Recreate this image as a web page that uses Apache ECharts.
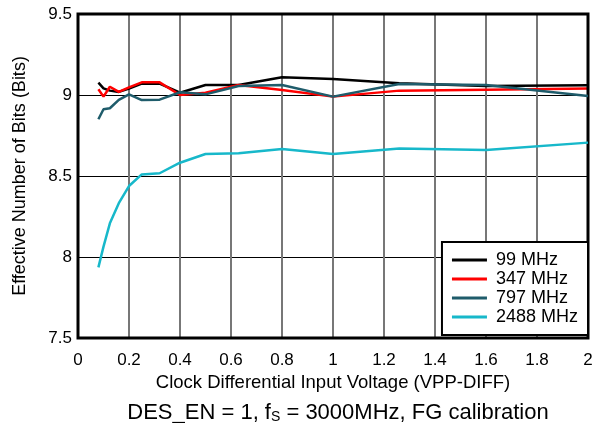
<!DOCTYPE html>
<html><head><meta charset="utf-8">
<script src="https://cdn.jsdelivr.net/npm/echarts@6/dist/echarts.min.js"></script>
<style>html,body{margin:0;padding:0;background:#fff}#c{width:596px;height:423px}</style>
</head><body><div id="c"></div>
<script>
var xValues = [0.08, 0.1, 0.125, 0.16, 0.2, 0.25, 0.32, 0.4, 0.5, 0.63, 0.8, 1.0, 1.26, 1.6, 2.0];
var enob99   = [9.076, 9.041, 9.027, 9.019, 9.040, 9.070, 9.070, 9.014, 9.062, 9.062, 9.109, 9.099, 9.072, 9.055, 9.060];
var enob347  = [9.035, 8.990, 9.051, 9.019, 9.047, 9.078, 9.078, 9.000, 9.014, 9.062, 9.031, 8.990, 9.027, 9.033, 9.040];
var enob797  = [8.850, 8.912, 8.918, 8.970, 9.004, 8.969, 8.971, 9.017, 9.004, 9.056, 9.062, 8.990, 9.068, 9.062, 8.994];
var enob2488 = [7.936, 8.064, 8.208, 8.332, 8.438, 8.510, 8.517, 8.582, 8.636, 8.640, 8.667, 8.636, 8.670, 8.660, 8.706];
var seriesNames = ['99 MHz', '347 MHz', '797 MHz', '2488 MHz'];
var xTicks = {min: 0, max: 2, interval: 0.2};
var yTicks = {min: 7.5, max: 9.5, interval: 0.5};

function pairs(ys){ return xValues.map(function(x,i){ return [x, ys[i]]; }); }
var colors = ['#000000', '#ff0000', '#1f5c6b', '#17b8ca'];
var dataSets = [enob99, enob347, enob797, enob2488];
var font = 'Liberation Sans, Arial, sans-serif';

var chart = echarts.init(document.getElementById('c'));
chart.setOption({
  animation: false,
  backgroundColor: '#fff',
  grid: {left: 78, right: 8, top: 14, bottom: 85, show: true, borderColor: '#000', borderWidth: 3, z: 5},
  title: {
    text: 'DES_EN = 1, f{sub|S} = 3000MHz, FG calibration',
    left: 333, top: 396, textAlign: 'center',
    textStyle: {fontFamily: font, fontSize: 22, fontWeight: 'normal', color: '#000',
      rich: {sub: {fontFamily: font, fontSize: 14, color: '#000', verticalAlign: 'bottom', padding: [9,0,0,0]}}}
  },
  legend: {
    orient: 'vertical', right: 8, bottom: 88,
    backgroundColor: '#fff', borderColor: '#000', borderWidth: 2, borderRadius: 0,
    padding: [9, 10, 9, 10],
    icon: 'path://M0,0H35V3H0Z',
    itemWidth: 35, itemHeight: 3, itemGap: 1,
    textStyle: {fontFamily: font, fontSize: 18, color: '#000', padding: [0, 0, 0, 4], lineHeight: 18},
    data: seriesNames, z: 10
  },
  xAxis: {
    type: 'value', min: xTicks.min, max: xTicks.max, interval: xTicks.interval,
    name: 'Clock Differential Input Voltage (VPP-DIFF)', nameLocation: 'middle', nameGap: 29,
    nameTextStyle: {fontFamily: font, fontSize: 18.5, color: '#000'},
    axisLine: {show: false}, axisTick: {show: false},
    axisLabel: {fontFamily: font, fontSize: 17, color: '#000', margin: 14},
    splitLine: {show: true, lineStyle: {color: '#777', width: 2}}
  },
  yAxis: {
    type: 'value', min: yTicks.min, max: yTicks.max, interval: yTicks.interval,
    name: 'Effective Number of Bits (Bits)', nameLocation: 'middle', nameGap: 49,
    nameTextStyle: {fontFamily: font, fontSize: 18, color: '#000'},
    axisLine: {show: false}, axisTick: {show: false},
    axisLabel: {fontFamily: font, fontSize: 17, color: '#000', margin: 6},
    splitLine: {show: true, lineStyle: {color: '#000', width: 1}}
  },
  series: seriesNames.map(function(n, i){
    return {name: n, type: 'line', data: pairs(dataSets[i]), symbol: 'none', smooth: false,
      lineStyle: {color: colors[i], width: 2.5}, itemStyle: {color: colors[i]}, z: 3 + i};
  })
});
</script></body></html>
